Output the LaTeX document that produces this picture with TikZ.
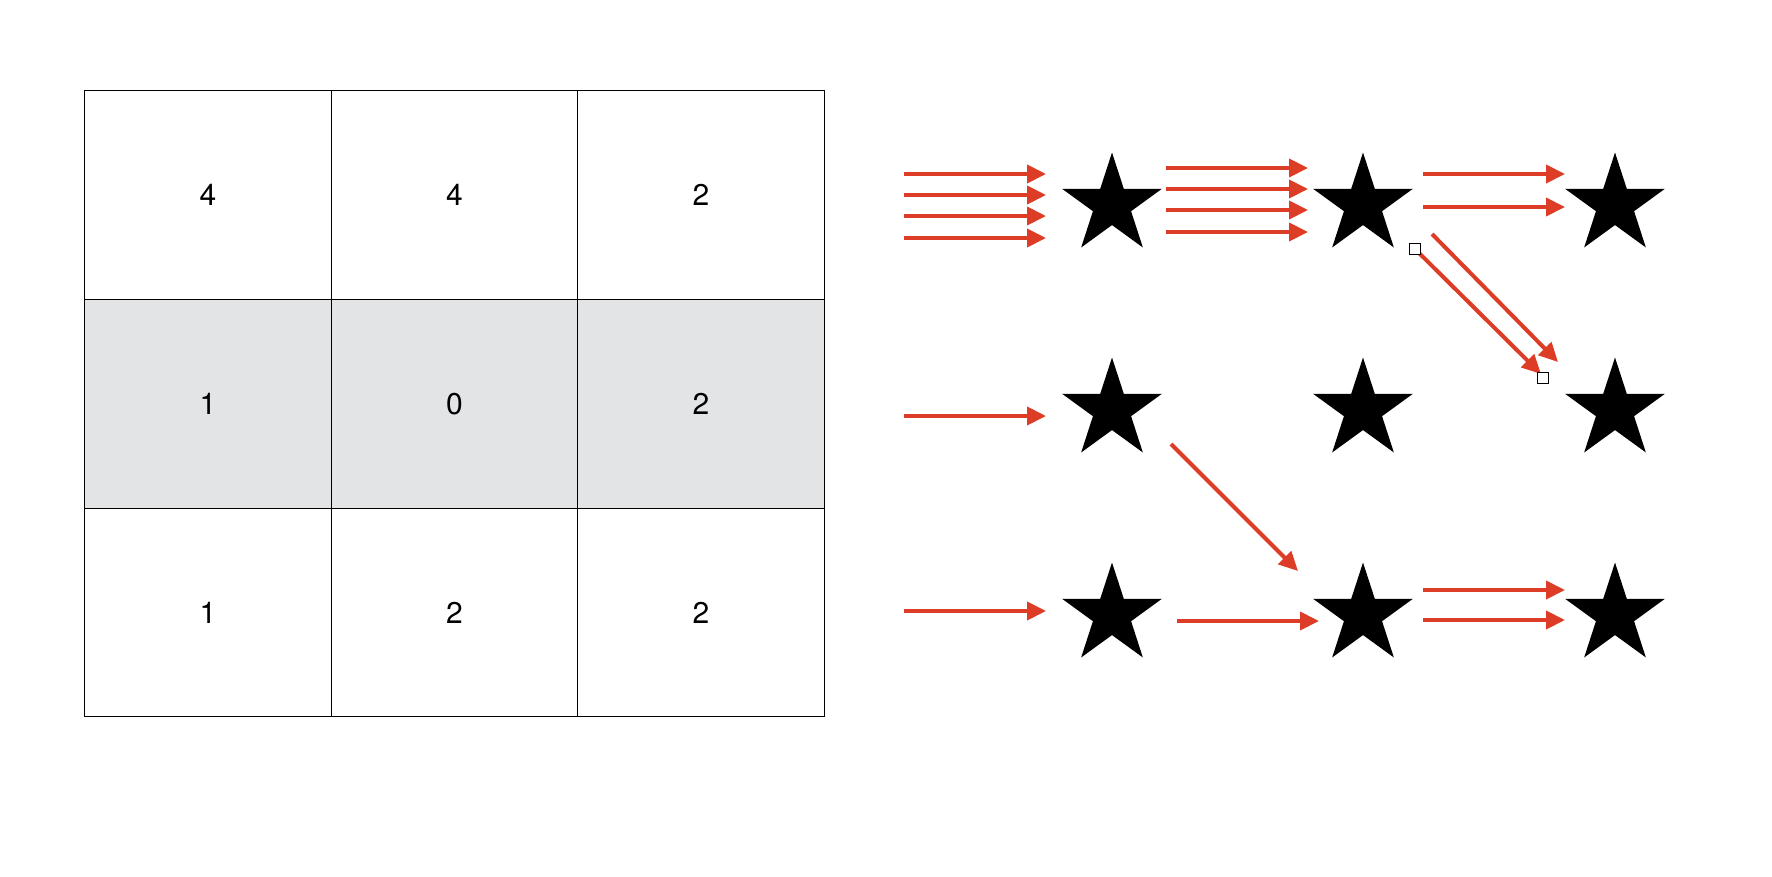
\documentclass[tikz,border=0pt]{standalone}
\usepackage{fontspec}
\setmainfont{TeX Gyre Heros}
\usetikzlibrary{arrows.meta,shapes.geometric}
\definecolor{gridGray}{HTML}{E3E4E6}
\definecolor{flowRed}{HTML}{DD3D27}

\begin{document}
\begin{tikzpicture}[x=1pt, y=-1pt,
    cell/.style={draw=black, line width=1pt, minimum width=246.5pt,
      minimum height=208.7pt, inner sep=0pt, font=\fontsize{30}{36}\selectfont},
    st/.style={star, star points=5, star point ratio=2.618, minimum size=105pt,
      inner sep=0pt, fill=black},
    arr/.style={-{Triangle[length=19pt, width=18pt]}, line width=4pt, flowRed},
    handle/.style={draw=black, line width=1pt, fill=white, minimum size=11.5pt,
      inner sep=0pt}]
  \useasboundingbox (0,0) rectangle (1772,876);
  \foreach \c/\v in {1/4,2/4,3/2}
    \node[cell] (c1\c) at ({208+246.5*(\c-1)},195) {\v};
  \foreach \c/\v in {1/1,2/0,3/2}
    \node[cell, fill=gridGray] (c2\c) at ({208+246.5*(\c-1)},404) {\v};
  \foreach \c/\v in {1/1,2/2,3/2}
    \node[cell] (c3\c) at ({208+246.5*(\c-1)},612.5) {\v};
  \foreach \r/\y in {1/205,2/410,3/615}
    \foreach \c/\x in {1/1112,2/1363,3/1615}
      \node[st] (s\r\c) at (\x,\y) {};
  \foreach \dy in {-31,-10,11,33}
    \draw[arr] ([shift={(-208,\dy)}]s11.center) -- ([shift={(-66,\dy)}]s11.center);
  \foreach \dy in {-37,-16,5,27}
    \draw[arr] ([shift={(54,\dy)}]s11.center) -- ([shift={(-55,\dy)}]s12.center);
  \foreach \dy in {-31,2}
    \draw[arr] ([shift={(60,\dy)}]s12.center) -- ([shift={(-50,\dy)}]s13.center);
  \draw[arr] ([shift={(69,29)}]s12.center) -- ([shift={(-57,-48)}]s23.center);
  \draw[arr] ([shift={(52,44)}]s12.center) -- ([shift={(-74,-36)}]s23.center);
  \node[handle] (h1) at ([shift={(52,44)}]s12.center) {};
  \node[handle] (h2) at ([shift={(-72,-32)}]s23.center) {};
  \draw[arr] ([shift={(-208,6)}]s21.center) -- ([shift={(-66,6)}]s21.center);
  \draw[arr] ([shift={(59,34)}]s21.center) -- ([shift={(-65,-44)}]s32.center);
  \draw[arr] ([shift={(-208,-4)}]s31.center) -- ([shift={(-66,-4)}]s31.center);
  \draw[arr] ([shift={(65,6)}]s31.center) -- ([shift={(-44,6)}]s32.center);
  \foreach \dy in {-25,5}
    \draw[arr] ([shift={(60,\dy)}]s32.center) -- ([shift={(-50,\dy)}]s33.center);
\end{tikzpicture}
\end{document}
